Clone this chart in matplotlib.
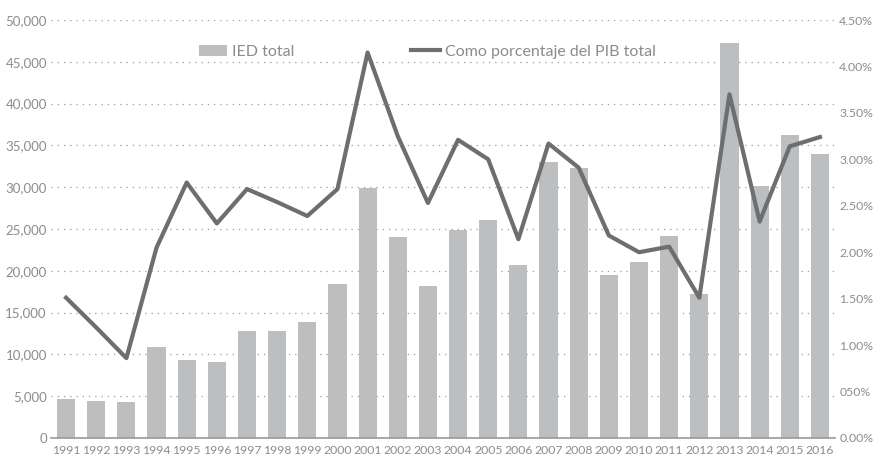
import matplotlib
matplotlib.use('Agg')
import matplotlib.pyplot as plt
import numpy as np

years = [str(y) for y in range(1991, 2017)]

#IED total (left axis)
ied = [4670, 4460, 4300, 10880, 9330, 9090, 12800, 12800, 13880, 18420,
       29900, 24040, 18180, 24880, 26080, 20690, 33010, 32340, 19500, 21050,
       24160, 17220, 47210, 30140, 36240, 33970]

#como porcentaje del PIB (right axis)
pib = [1.51, 1.19, 0.86, 2.05, 2.75, 2.31, 2.68, 2.54, 2.39, 2.68,
       4.15, 3.25, 2.53, 3.21, 3.00, 2.14, 3.17, 2.91, 2.18, 2.00,
       2.06, 1.51, 3.70, 2.33, 3.14, 3.24]

left_ticks = [0, 5000, 10000, 15000, 20000, 25000, 30000, 35000, 40000, 45000, 50000]
left_labels = ['0', '5,000', '10,000', '15,000', '20,000', '25,000', '30,000',
               '35,000', '40,000', '45,000', '50,000']
right_ticks = [0, 0.5, 1.0, 1.5, 2.0, 2.5, 3.0, 3.5, 4.0, 4.5]
right_labels = ['0.00%', '050%', '1.00%', '1.50%', '2.00%', '2.50%', '3.00%',
                '3.50%', '4.00%', '4.50%']

plt.rcParams['font.family'] = ['Lato', 'DejaVu Sans']
txt = '#8c8c8e'
bar_col = '#bdbec0'
line_col = '#6d6e70'

fig = plt.figure(figsize=(8.75, 4.55), dpi=100)
ax = fig.add_axes([51/875, 17/455, 784/875, 418/455])
x = np.arange(len(years))

ax.set_axisbelow(True)
ax.grid(axis='y', linestyle=(0, (1, 4)), color='#9a9a9a', linewidth=0.9)
b = ax.bar(x, ied, width=0.6, color=bar_col, zorder=2, label='IED total')
ax.set_xlim(-0.5, 25.5)
ax.set_ylim(0, 50000)
ax.set_yticks(left_ticks)
ax.set_yticklabels(left_labels)
ax.set_xticks(x)
ax.set_xticklabels(years)
ax.tick_params(axis='both', length=0, colors=txt)
ax.tick_params(axis='y', pad=3, labelsize=9.5)
ax.tick_params(axis='x', pad=5, labelsize=8.8)
for s in ['top', 'left', 'right']:
    ax.spines[s].set_visible(False)
ax.spines['bottom'].set_color('#999999')
ax.spines['bottom'].set_linewidth(1.2)

ax2 = ax.twinx()
l, = ax2.plot(x, pib, color=line_col, linewidth=3, zorder=3,
              label='Como porcentaje del PIB total')
ax2.set_ylim(0, 4.5)
ax2.set_yticks(right_ticks)
ax2.set_yticklabels(right_labels)
ax2.tick_params(axis='y', length=0, colors=txt, labelsize=8.8, pad=3)
for s in ['top', 'left', 'right', 'bottom']:
    ax2.spines[s].set_visible(False)

leg = ax2.legend(handles=[b, l], loc='upper left', bbox_to_anchor=(0.17, 0.975),
                 ncol=2, frameon=False, fontsize=11.5, handlelength=1.8,
                 handletextpad=0.3, columnspacing=7.3, labelcolor=txt)

fig.savefig('out.png', dpi=100)
